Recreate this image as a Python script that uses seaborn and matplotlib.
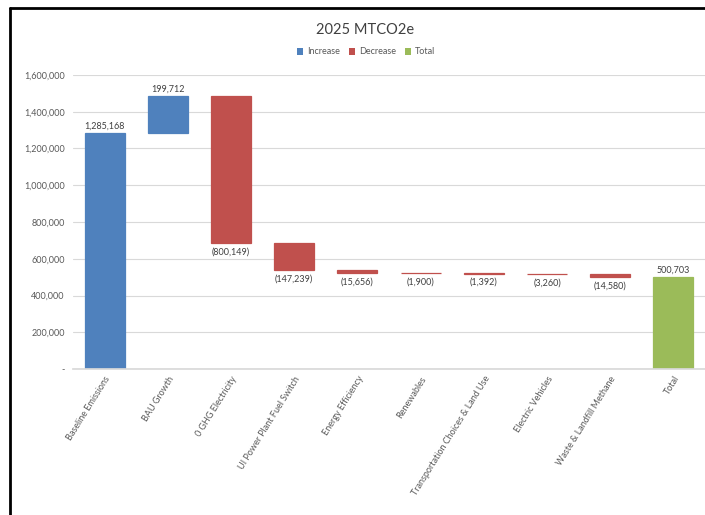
import numpy as np
import pandas as pd
import matplotlib
matplotlib.use("Agg")
import matplotlib.pyplot as plt
from matplotlib.patches import Patch
from matplotlib.lines import Line2D
import seaborn as sns

categories = ["Baseline Emissions", "BAU Growth", "0 GHG Electricity",
              "UI Power Plant Fuel Switch", "Energy Efficiency", "Renewables",
              "Transportation Choices & Land Use", "Electric Vehicles",
              "Waste & Landfill Methane", "Total"]
changes = [1285168, 199712, -800149, -147239, -15656, -1900, -1392, -3260, -14580, 500703]
kinds = ["Increase", "Increase", "Decrease", "Decrease", "Decrease", "Decrease",
         "Decrease", "Decrease", "Decrease", "Total"]
value_labels = ["1,285,168", "199,712", "(800,149)", "(147,239)", "(15,656)", "(1,900)",
                "(1,392)", "(3,260)", "(14,580)", "500,703"]
yticks = [0, 200000, 400000, 600000, 800000, 1000000, 1200000, 1400000, 1600000]
ytick_labels = ["-", "200,000", "400,000", "600,000", "800,000", "1,000,000",
                "1,200,000", "1,400,000", "1,600,000"]
colors = {"Increase": "#4F81BD", "Decrease": "#C0504D", "Total": "#9BBB59"}

# waterfall geometry
bottoms, heights = [], []
running = 0
for v, k in zip(changes, kinds):
    if k == "Total":
        bottoms.append(0); heights.append(v)
    elif v >= 0:
        bottoms.append(running); heights.append(v); running += v
    else:
        running += v
        bottoms.append(running); heights.append(-v)

df = pd.DataFrame({"category": categories, "height": heights, "bottom": bottoms,
                   "kind": kinds, "label": value_labels})

sns.set_theme(style="white")
plt.rcParams["font.family"] = ["Lato", "DejaVu Sans"]

fig = plt.figure(figsize=(7.05, 5.15), dpi=100)
ax = fig.add_axes([73/705, 1 - 369/515, (705 - 73)/705, (369 - 75)/515])

for k in ["Increase", "Decrease", "Total"]:
    sub = df[df["kind"] == k]
    sns.barplot(data=sub, x="category", y="height", order=categories,
                color=colors[k], bottom=sub["bottom"].values, width=0.63,
                saturation=1, ax=ax, edgecolor=colors[k], linewidth=0.9)

ax.set_ylim(0, 1600000)
ax.set_xlim(-0.5, len(categories) - 0.5)
ax.set_yticks(yticks)
ax.set_yticklabels(ytick_labels, fontsize=6.5, color="#595959")
ax.yaxis.grid(True, color="#D9D9D9", linewidth=0.8)
ax.set_axisbelow(True)
for s in ["top", "right", "left"]:
    ax.spines[s].set_visible(False)
ax.spines["bottom"].set_color("#D9D9D9")
ax.tick_params(axis="y", length=0, pad=6)
ax.tick_params(axis="x", length=0, pad=4)
ax.set_xlabel("")
ax.set_ylabel("")
ax.set_xticks(range(len(categories)))
ax.set_xticklabels(categories, rotation=58, ha="right", rotation_mode="anchor",
                   fontsize=6.5, color="#595959")

for i, row in df.iterrows():
    if row["kind"] == "Decrease":
        ax.annotate(row["label"], (i, row["bottom"]), xytext=(0, -3),
                    textcoords="offset points", ha="center", va="top",
                    fontsize=6.5, color="#404040")
    else:
        ax.annotate(row["label"], (i, row["bottom"] + row["height"]), xytext=(0, 1.5),
                    textcoords="offset points", ha="center", va="bottom",
                    fontsize=6.5, color="#404040")

fig.text(365/705, 1 - 30/515, "2025 MTCO2e", ha="center", va="center",
         fontsize=10.5, color="#404040")
handles = [Patch(facecolor=colors[k], edgecolor="none", label=k)
           for k in ["Increase", "Decrease", "Total"]]
fig.legend(handles=handles, loc="center", bbox_to_anchor=(366/705, 1 - 52/515),
           ncol=3, frameon=False, fontsize=6.5, handlelength=0.7, handleheight=0.7,
           handletextpad=0.4, columnspacing=1.0, labelcolor="#595959")

# black frame (top and left edges visible in the reference)
fig.add_artist(Line2D([10/705, 10/705], [0, 1 - 8/515], transform=fig.transFigure,
                      color="black", linewidth=2))
fig.add_artist(Line2D([10/705, 1], [1 - 8/515, 1 - 8/515], transform=fig.transFigure,
                      color="black", linewidth=2))

fig.savefig("out.png", dpi=100)
